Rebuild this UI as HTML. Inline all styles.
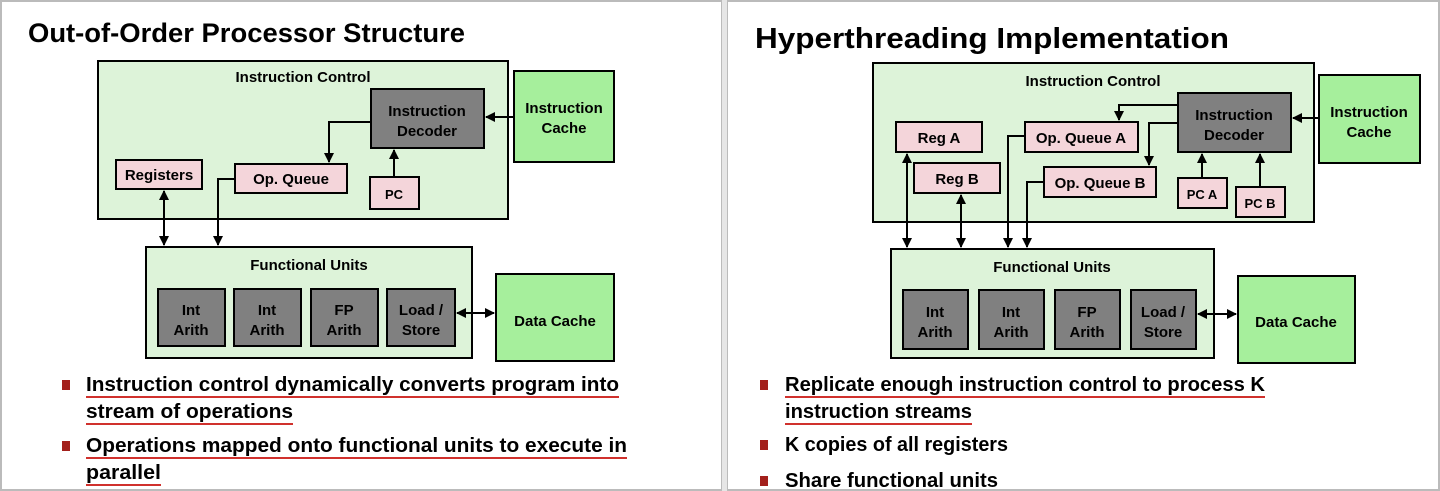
<!DOCTYPE html>
<html><head><style>
html,body{margin:0;padding:0;background:#fff;}
svg{display:block;font-family:"Liberation Sans",sans-serif;font-weight:bold;}
</style></head><body>
<svg width="1440" height="491" viewBox="0 0 1440 491" xmlns="http://www.w3.org/2000/svg">
<defs>
<marker id="a" viewBox="0 0 10 10" refX="9" refY="5" markerWidth="5" markerHeight="5" orient="auto-start-reverse"><path d="M0,0L10,5L0,10z" fill="#000"/></marker>
</defs>
<rect x="0" y="0" width="1440" height="491" fill="#fff"/>
<rect x="1" y="1" width="721" height="489" fill="none" stroke="#bbb" stroke-width="2"/>
<rect x="727" y="1" width="712" height="489" fill="none" stroke="#bbb" stroke-width="2"/>
<rect x="722" y="0" width="5" height="491" fill="#e6e6e6"/>

<!-- LEFT -->
<text x="28" y="42" font-size="27" textLength="437" lengthAdjust="spacingAndGlyphs">Out-of-Order Processor Structure</text>
<g stroke="#000" stroke-width="2">
<rect x="98" y="61" width="410" height="158" fill="#ddf3d9"/>
<rect x="514" y="71" width="100" height="91" fill="#a6ef9c"/>
<rect x="371" y="89" width="113" height="59" fill="#808080"/>
<rect x="116" y="160" width="86" height="29" fill="#f4d5da"/>
<rect x="235" y="164" width="112" height="29" fill="#f4d5da"/>
<rect x="370" y="177" width="49" height="32" fill="#f4d5da"/>
<rect x="146" y="247" width="326" height="111" fill="#ddf3d9"/>
<rect x="158" y="289" width="67" height="57" fill="#808080"/>
<rect x="234" y="289" width="67" height="57" fill="#808080"/>
<rect x="311" y="289" width="67" height="57" fill="#808080"/>
<rect x="387" y="289" width="68" height="57" fill="#808080"/>
<rect x="496" y="274" width="118" height="87" fill="#a6ef9c"/>
</g>
<g stroke="#000" stroke-width="2" fill="none" marker-end="url(#a)">
<path d="M514,117H486"/>
<path d="M371,122H329V162"/>
<path d="M394,177V150"/>
<path d="M235,179H218V245"/>
<path d="M164,191V245" marker-start="url(#a)"/>
<path d="M457,313H494" marker-start="url(#a)"/>
</g>
<g font-size="15" text-anchor="middle">
<text x="303" y="82">Instruction Control</text>
<text x="427" y="116">Instruction</text><text x="427" y="136">Decoder</text>
<text x="564" y="113">Instruction</text><text x="564" y="133">Cache</text>
<text x="159" y="180">Registers</text>
<text x="291" y="184">Op. Queue</text>
<text x="394" y="199" font-size="13">PC</text>
<text x="309" y="270">Functional Units</text>
<text x="191" y="315">Int</text><text x="191" y="335">Arith</text>
<text x="267" y="315">Int</text><text x="267" y="335">Arith</text>
<text x="344" y="315">FP</text><text x="344" y="335">Arith</text>
<text x="421" y="315">Load /</text><text x="421" y="335">Store</text>
<text x="555" y="326">Data Cache</text>
</g>
<g fill="#a3201c"><rect x="62" y="380" width="8" height="10"/><rect x="62" y="441" width="8" height="10"/></g>
<g font-size="20">
<text x="86" y="391" textLength="533" lengthAdjust="spacingAndGlyphs">Instruction control dynamically converts program into</text>
<text x="86" y="418" textLength="207" lengthAdjust="spacingAndGlyphs">stream of operations</text>
<text x="86" y="452" textLength="541" lengthAdjust="spacingAndGlyphs">Operations mapped onto functional units to execute in</text>
<text x="86" y="479" textLength="75" lengthAdjust="spacingAndGlyphs">parallel</text>
</g>
<g stroke="#d0312d" stroke-width="2">
<path d="M86,397H619"/><path d="M86,424H293"/><path d="M86,458H627"/><path d="M86,485H161"/>
</g>

<!-- RIGHT -->
<text x="755" y="48" font-size="29" textLength="474" lengthAdjust="spacingAndGlyphs">Hyperthreading Implementation</text>
<g stroke="#000" stroke-width="2">
<rect x="873" y="63" width="441" height="159" fill="#ddf3d9"/>
<rect x="1319" y="75" width="101" height="88" fill="#a6ef9c"/>
<rect x="1178" y="93" width="113" height="59" fill="#808080"/>
<rect x="896" y="122" width="86" height="30" fill="#f4d5da"/>
<rect x="914" y="163" width="86" height="30" fill="#f4d5da"/>
<rect x="1025" y="122" width="113" height="30" fill="#f4d5da"/>
<rect x="1044" y="167" width="112" height="30" fill="#f4d5da"/>
<rect x="1178" y="178" width="49" height="30" fill="#f4d5da"/>
<rect x="1236" y="187" width="49" height="30" fill="#f4d5da"/>
<rect x="891" y="249" width="323" height="109" fill="#ddf3d9"/>
<rect x="903" y="290" width="65" height="59" fill="#808080"/>
<rect x="979" y="290" width="65" height="59" fill="#808080"/>
<rect x="1055" y="290" width="65" height="59" fill="#808080"/>
<rect x="1131" y="290" width="65" height="59" fill="#808080"/>
<rect x="1238" y="276" width="117" height="87" fill="#a6ef9c"/>
</g>
<g stroke="#000" stroke-width="2" fill="none" marker-end="url(#a)">
<path d="M1319,118H1293"/>
<path d="M1178,105H1119V120"/>
<path d="M1178,123H1149V165"/>
<path d="M1202,178V154"/>
<path d="M1260,187V154"/>
<path d="M1025,136H1008V247"/>
<path d="M1044,182H1027V247"/>
<path d="M907,154V247" marker-start="url(#a)"/>
<path d="M961,195V247" marker-start="url(#a)"/>
<path d="M1198,314H1236" marker-start="url(#a)"/>
</g>
<g font-size="15" text-anchor="middle">
<text x="1093" y="86">Instruction Control</text>
<text x="1234" y="120">Instruction</text><text x="1234" y="140">Decoder</text>
<text x="1369" y="117">Instruction</text><text x="1369" y="137">Cache</text>
<text x="939" y="143">Reg A</text>
<text x="957" y="184">Reg B</text>
<text x="1081" y="143">Op. Queue A</text>
<text x="1100" y="188">Op. Queue B</text>
<text x="1202" y="199" font-size="13">PC A</text>
<text x="1260" y="208" font-size="13">PC B</text>
<text x="1052" y="272">Functional Units</text>
<text x="935" y="317">Int</text><text x="935" y="337">Arith</text>
<text x="1011" y="317">Int</text><text x="1011" y="337">Arith</text>
<text x="1087" y="317">FP</text><text x="1087" y="337">Arith</text>
<text x="1163" y="317">Load /</text><text x="1163" y="337">Store</text>
<text x="1296" y="327">Data Cache</text>
</g>
<g fill="#a3201c"><rect x="760" y="380" width="8" height="10"/><rect x="760" y="440" width="8" height="10"/><rect x="760" y="476" width="8" height="10"/></g>
<g font-size="20">
<text x="785" y="391" textLength="480" lengthAdjust="spacingAndGlyphs">Replicate enough instruction control to process K</text>
<text x="785" y="418" textLength="187" lengthAdjust="spacingAndGlyphs">instruction streams</text>
<text x="785" y="451" textLength="223" lengthAdjust="spacingAndGlyphs">K copies of all registers</text>
<text x="785" y="487" textLength="213" lengthAdjust="spacingAndGlyphs">Share functional units</text>
</g>
<g stroke="#d0312d" stroke-width="2">
<path d="M785,397H1265"/><path d="M785,424H972"/>
</g>
</svg>
</body></html>
